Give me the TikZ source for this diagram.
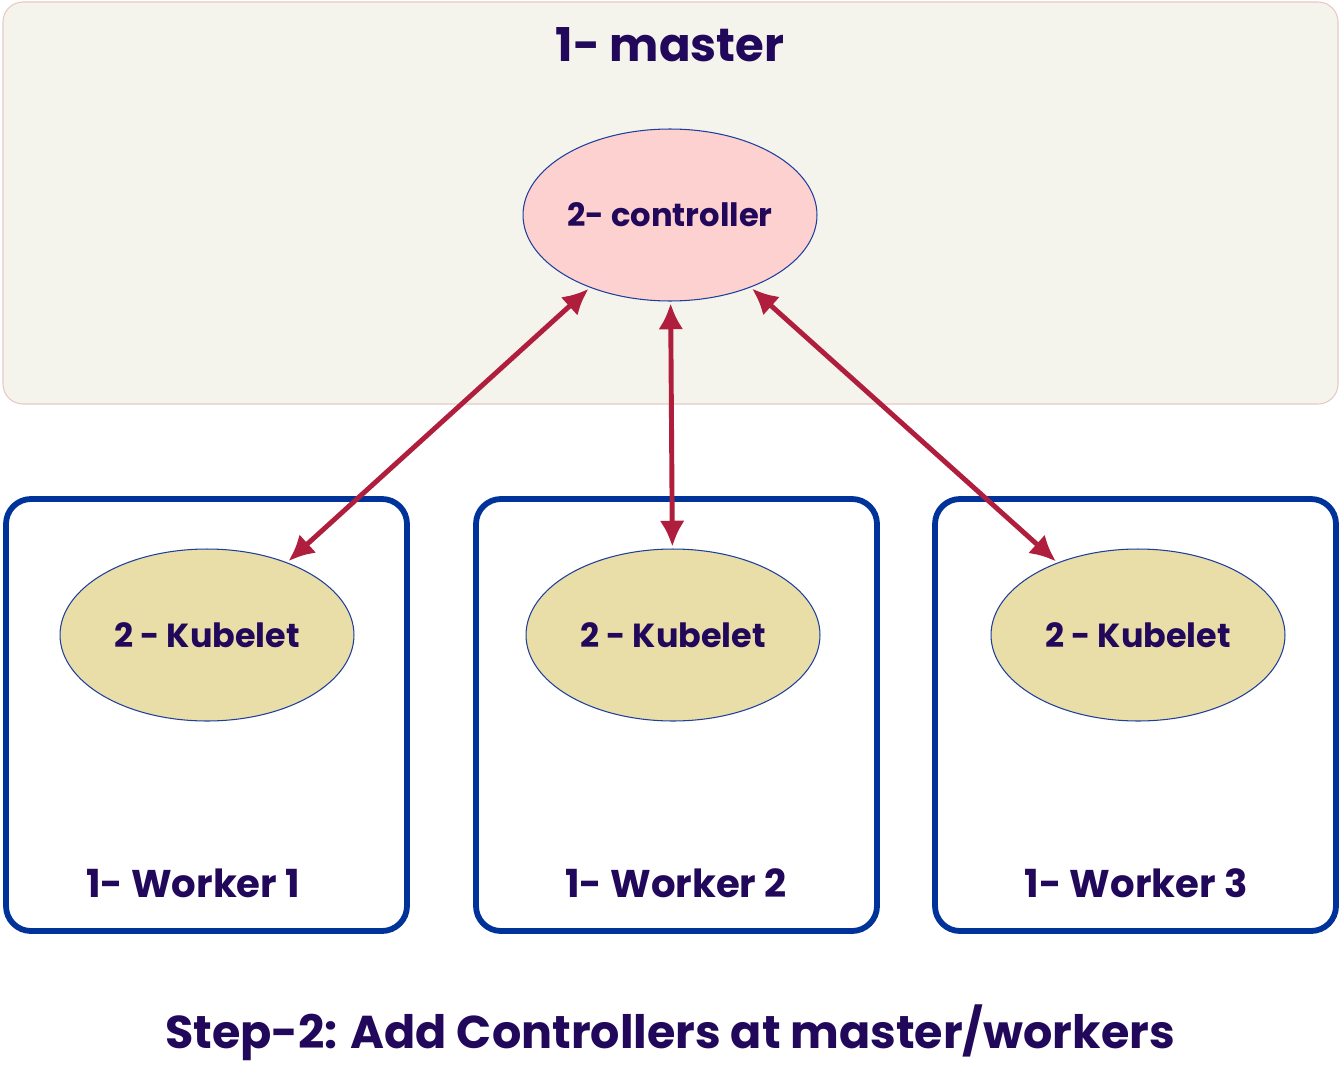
\documentclass[tikz,border=0pt]{standalone}
\usepackage{fontspec}
\setmainfont{Poppins}
\usetikzlibrary{shapes.geometric,arrows.meta}
\definecolor{txt}{HTML}{22085A}
\definecolor{masterfill}{HTML}{F5F4EC}
\definecolor{masterborder}{HTML}{E6C9C6}
\definecolor{ctrlfill}{HTML}{FDD1CF}
\definecolor{kubefill}{HTML}{E9DDA8}
\definecolor{ellborder}{HTML}{1F3F9F}
\definecolor{workerborder}{HTML}{003399}
\definecolor{arrowcol}{HTML}{B01E3E}
\begin{document}
\begin{tikzpicture}[x=0.02cm,y=-0.02cm,
  lbl/.style={text=txt,font=\bfseries},
  ell/.style={ellipse,draw=ellborder,line width=0.6pt,minimum width=5.88cm,minimum height=3.44cm,inner sep=0pt,text=txt,font=\bfseries\fontsize{19}{22}\selectfont},
  workerbox/.style={draw=workerborder,line width=3.3pt,rounded corners=0.5cm,fill=white},
  link/.style={draw=arrowcol,line width=2.8pt,{Latex[length=0.52cm,width=0.5cm]}-{Latex[length=0.52cm,width=0.5cm]},shorten <=1pt,shorten >=1pt}]
\useasboundingbox (0,0) rectangle (1341,1068);
\fill[white] (0,0) rectangle (1341,1068);
% master
\draw[fill=masterfill,draw=masterborder,line width=0.6pt,rounded corners=0.4cm] (3,2) rectangle (1338,404);
\node[lbl,font=\bfseries\fontsize{26.5}{32}\selectfont] (mtitle) at (670,45) {1- master};
\node[ell,fill=ctrlfill,font=\bfseries\fontsize{18.3}{22}\selectfont] (ctrl) at (670,215) {2- controller};
% workers
\draw[workerbox] (6,499) rectangle (407,931);
\draw[workerbox] (476,499) rectangle (877,931);
\draw[workerbox] (935,499) rectangle (1336,931);
\node[ell,fill=kubefill] (k1) at (207,635) {2 - Kubelet};
\node[ell,fill=kubefill] (k2) at (673,635) {2 - Kubelet};
\node[ell,fill=kubefill] (k3) at (1138,635) {2 - Kubelet};
\node[lbl,font=\bfseries\fontsize{22}{26}\selectfont] (w1) at (193,883) {1- Worker 1};
\node[lbl,font=\bfseries\fontsize{22}{26}\selectfont] (w2) at (676,883) {1- Worker 2};
\node[lbl,font=\bfseries\fontsize{22}{26}\selectfont] (w3) at (1136,883) {1- Worker 3};
% arrows
\draw[link] (ctrl) -- (k1);
\draw[link] (ctrl) -- (k2);
\draw[link] (ctrl) -- (k3);
% caption
\node[lbl,font=\bfseries\fontsize{26.2}{30}\selectfont] (cap) at (670,1033) {Step-2: Add Controllers at master/workers};
\end{tikzpicture}
\end{document}
